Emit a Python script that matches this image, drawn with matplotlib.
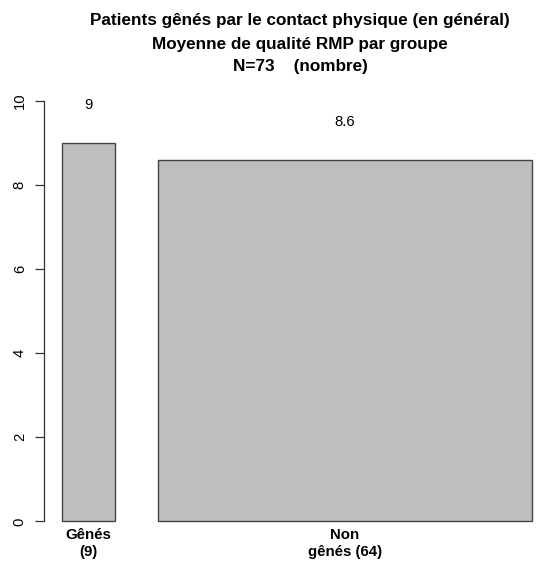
import numpy as np
import matplotlib
matplotlib.use("Agg")
import matplotlib.pyplot as plt

plt.rcParams['font.family'] = ['Liberation Sans', 'DejaVu Sans']

categories = ["Gênés\n(9)", "Non\ngênés (64)"]
counts = [9, 64]
means = [9, 8.6]
value_labels = ["9", "8.6"]
title_lines = ["Patients gênés par le contact physique (en général)",
               "Moyenne de qualité RMP par groupe",
               "N=73    (nombre)"]
yticks = [0, 2, 4, 6, 8, 10]

# R-like barplot geometry: widths proportional to counts, space = 0.2*mean(width)
w = np.array(counts, dtype=float)
space = 0.2 * w.mean()
rights = np.cumsum(space + w)
lefts = rights - w
centers = (lefts + rights) / 2
xmin, xmax = lefts.min(), rights.max()
pad = 0.04 * (xmax - xmin)

fig = plt.figure(figsize=(5.36, 5.65), dpi=100)
ax = fig.add_axes([43.7 / 536, (565 - 538.3) / 565, 507.1 / 536, 454.4 / 565])
ax.bar(lefts, means, width=w, align='edge', color='#bebebe',
       edgecolor='#444444', linewidth=1.0)
ax.set_xlim(xmin - pad, xmax + pad)
ax.set_ylim(-0.4, 10.4)

for s in ['top', 'right', 'bottom']:
    ax.spines[s].set_visible(False)
ax.spines['left'].set_bounds(0, 10)
ax.spines['left'].set_color('#333333')
ax.spines['left'].set_linewidth(0.9)
ax.set_yticks(yticks)
ax.set_yticklabels([str(t) for t in yticks], rotation=90, va='center', fontsize=10.7)
ax.tick_params(axis='y', length=6.2, width=0.9, color='#333333', pad=6)
ax.set_xticks([])

for c, m, lab in zip(centers, means, value_labels):
    ax.text(c, m + 0.9, lab, ha='center', va='center', fontsize=10.7)

for c, cat in zip(centers, categories):
    ax.annotate(cat, xy=(c, 0), xytext=(0, -5), textcoords='offset points',
                ha='center', va='top', fontsize=10.8, fontweight='bold',
                linespacing=1.25, annotation_clip=False)

cx = 300 / 536
for i, (line, ypx) in enumerate(zip(title_lines, [20, 45, 66])):
    fig.text(cx, 1 - ypx / 565, line, ha='center', va='center',
             fontsize=12.3, fontweight='bold')

fig.savefig('out.png', dpi=100)
